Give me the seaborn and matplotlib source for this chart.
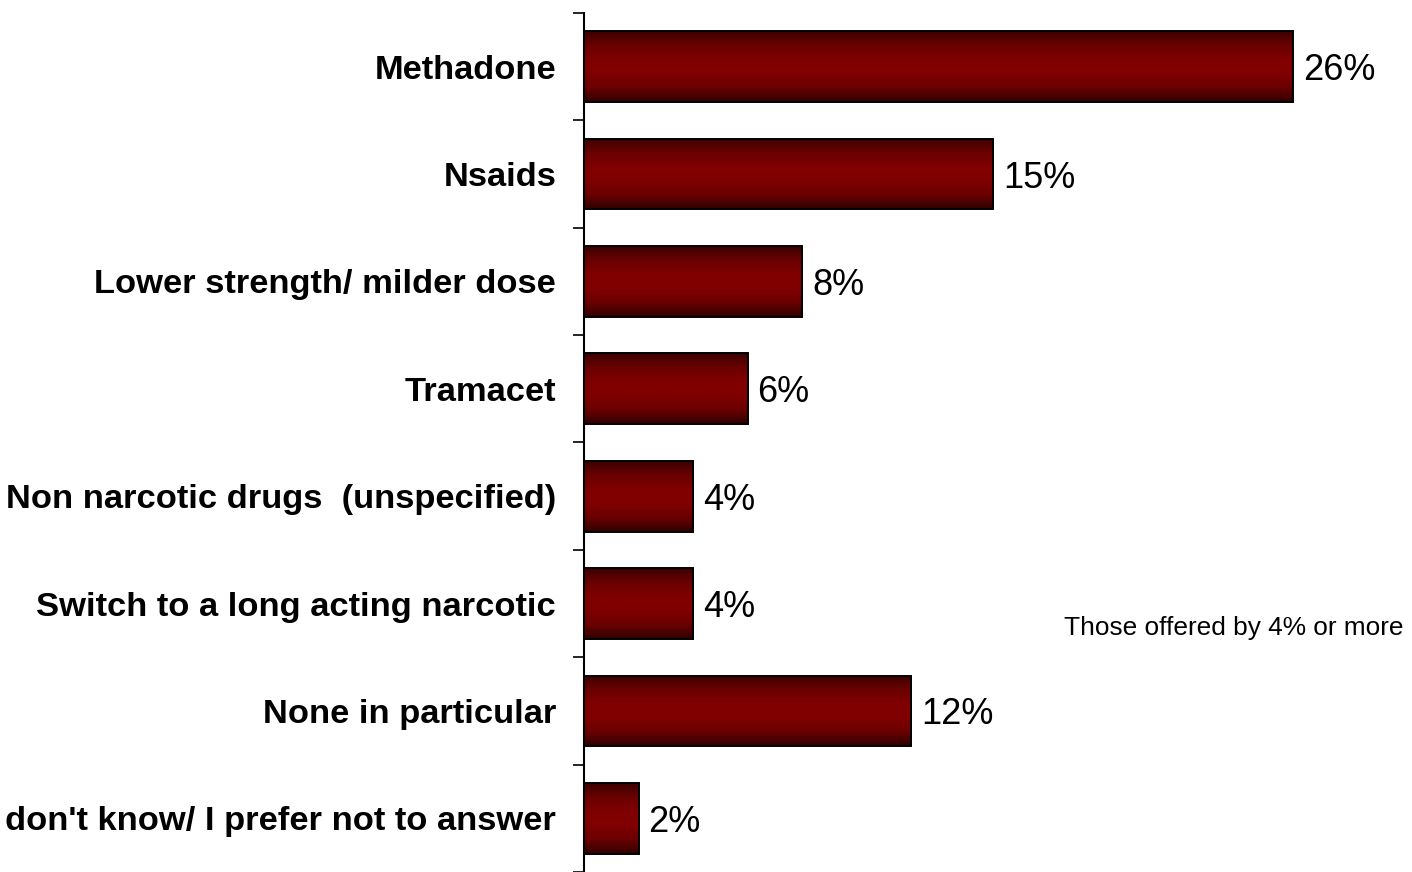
import matplotlib
matplotlib.use("Agg")
import matplotlib.pyplot as plt
import seaborn as sns
import numpy as np
import pandas as pd
from matplotlib.colors import LinearSegmentedColormap

categories = [
    "Methadone",
    "Nsaids",
    "Lower strength/ milder dose",
    "Tramacet",
    "Non narcotic drugs  (unspecified)",
    "Switch to a long acting narcotic",
    "None in particular",
    "I don't know/ I prefer not to answer",
]
values = [26, 15, 8, 6, 4, 4, 12, 2]
value_labels = ["26%", "15%", "8%", "6%", "4%", "4%", "12%", "2%"]
note_text = "Those offered by 4% or more"

df = pd.DataFrame({"category": categories, "value": values})

sns.set_theme(style="white")
plt.rcParams["font.family"] = ["Liberation Sans", "DejaVu Sans"]

fig = plt.figure(figsize=(14.12, 8.72), dpi=100)
ax = fig.add_axes([584 / 1412, 0.0, 1 - 584 / 1412, (872 - 13) / 872])

sns.barplot(data=df, x="value", y="category", orient="h", ax=ax,
            width=0.66, color="#800000", edgecolor="black", linewidth=1.4,
            saturation=1)

cmap = LinearSegmentedColormap.from_list(
    "cyl", ["#3a0000", "#6a0000", "#800000", "#800000", "#6a0000", "#2e0000"])
grad = np.linspace(0, 1, 256).reshape(-1, 1)

for p in ax.patches:
    x0, y0 = p.get_x(), p.get_y()
    w, h = p.get_width(), p.get_height()
    im = ax.imshow(grad, cmap=cmap, aspect="auto",
                   extent=(x0, x0 + w, y0 + h, y0), zorder=2,
                   interpolation="bilinear")
    im.set_clip_path(p)
    p.set_facecolor("none")
    p.set_zorder(3)

xmax = (1412 - 584) / (709 / 26)
ax.set_xlim(0, xmax)
ax.set_ylim(len(categories) - 0.5, -0.5)

for i, (v, lab) in enumerate(zip(values, value_labels)):
    ax.annotate(lab, xy=(v, i), xytext=(7, 0), textcoords="offset points",
                ha="left", va="center_baseline", fontsize=26, color="black")

ax.set_xlabel("")
ax.set_ylabel("")
ax.set_xticks([])
ax.set_yticks(range(len(categories)))
ax.set_yticklabels(categories, fontsize=24.8, fontweight="bold", color="black")
ax.set_yticks(np.arange(-0.5, len(categories), 1.0), minor=True)
ax.tick_params(axis="y", which="major", length=0, pad=20)
ax.tick_params(axis="y", which="minor", left=True, length=8, width=1.2,
               color="black", direction="out")

for s in ["top", "right", "bottom"]:
    ax.spines[s].set_visible(False)
ax.spines["left"].set_color("black")
ax.spines["left"].set_linewidth(1.5)

fig.text(1404 / 1412, 1 - 628 / 872, note_text, ha="right", va="center",
         fontsize=18.9, color="black")

fig.savefig("out.png", dpi=100)
